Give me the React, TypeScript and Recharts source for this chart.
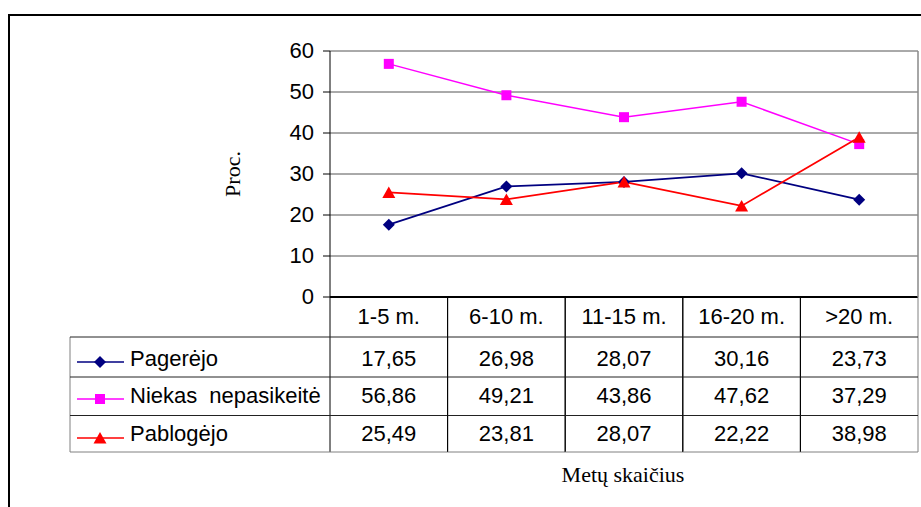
import React from 'react';
import { LineChart, Line, XAxis, YAxis, CartesianGrid, Label } from 'recharts';

const categories = ['1-5 m.', '6-10 m.', '11-15 m.', '16-20 m.', '>20 m.'];
const pagerejo = [17.65, 26.98, 28.07, 30.16, 23.73];
const niekas = [56.86, 49.21, 43.86, 47.62, 37.29];
const pablogejo = [25.49, 23.81, 28.07, 22.22, 38.98];
const seriesNames = ['Pagerėjo', 'Niekas nepasikeitė', 'Pablogėjo'];
const yTicks = [0, 10, 20, 30, 40, 50, 60];
const yTitle = 'Proc.';
const xTitle = 'Metų skaičius';

const data = categories.map((c, i) => ({ cat: c, p: pagerejo[i], n: niekas[i], b: pablogejo[i] }));

const SANS = '"Liberation Sans", Arial, sans-serif';
const SERIF = '"Liberation Serif", "Times New Roman", serif';

const PLOT_W = 588;
const HALF_BAND = PLOT_W / categories.length / 2;

const Diamond = ({ cx, cy, fill }: any) => (
  <polygon points={`${cx},${cy - 6} ${cx + 6},${cy} ${cx},${cy + 6} ${cx - 6},${cy}`} fill={fill} />
);
const Square = ({ cx, cy, fill }: any) => (
  <rect x={cx - 5} y={cy - 5} width={10} height={10} fill={fill} />
);
const Triangle = ({ cx, cy, fill }: any) => (
  <polygon points={`${cx},${cy - 6} ${cx + 6.5},${cy + 5.5} ${cx - 6.5},${cy + 5.5}`} fill={fill} />
);

const series = [
  { key: 'p', name: seriesNames[0], color: '#000080', Shape: Diamond, values: pagerejo, width: 1.75 },
  { key: 'n', name: seriesNames[1], color: '#FF00FF', Shape: Square, values: niekas, width: 1.5 },
  { key: 'b', name: seriesNames[2], color: '#FF0000', Shape: Triangle, values: pablogejo, width: 1.75 },
];

const fmt = (v: number) => v.toFixed(2).replace('.', ',');

const rowBaselines = [68.5, 106, 144];
const keyCenters = [65, 102, 141];
const rowLines = [40, 80, 118.5, 155];

const TableTick = (props: any) => {
  const { x, y, payload } = props;
  const i = props.index ?? payload?.index ?? 0;
  const half = HALF_BAND;
  const left = x - half;
  const right = x + half;
  const tableLeft = left - 260;
  return (
    <g>
      <text x={x} y={y + 27} textAnchor="middle" fontFamily={SANS} fontSize={22} fill="#000">
        {payload.value}
      </text>
      {series.map((s, k) => (
        <text key={s.key} x={x} y={y + rowBaselines[k]} textAnchor="middle" fontFamily={SANS} fontSize={22} fill="#000">
          {fmt(s.values[i])}
        </text>
      ))}
      <line x1={left} x2={left} y1={y} y2={y + 155} stroke="#000" strokeWidth={1} />
      <line x1={right} x2={right} y1={y} y2={y + 155} stroke={i === categories.length - 1 ? '#808080' : '#000'} strokeWidth={1} />
      {rowLines.map((d, k) => (
        <line key={k} x1={left} x2={right} y1={y + d} y2={y + d} stroke={k === 3 ? '#808080' : '#222'} strokeWidth={1} />
      ))}
      {i === 0 && (
        <g>
          <line x1={tableLeft} x2={tableLeft} y1={y + 40} y2={y + 155} stroke="#808080" strokeWidth={1} />
          {rowLines.map((d, k) => (
            <line key={'l' + k} x1={tableLeft} x2={left} y1={y + d} y2={y + d} stroke={k === 3 ? '#808080' : '#222'} strokeWidth={1} />
          ))}
          {series.map((s, k) => {
            const cy = y + keyCenters[k];
            const S = s.Shape;
            return (
              <g key={'k' + s.key}>
                <line x1={tableLeft + 7} x2={tableLeft + 54} y1={cy} y2={cy} stroke={s.color} strokeWidth={1.5} />
                <S cx={tableLeft + 30} cy={cy} fill={s.color} />
                <text x={tableLeft + 60} y={y + rowBaselines[k]} fontFamily={SANS} fontSize={22} fill="#000" wordSpacing={6}>
                  {s.name}
                </text>
              </g>
            );
          })}
        </g>
      )}
    </g>
  );
};

const YTick = (props: any) => {
  const { x, y, payload } = props;
  return (
    <text x={x} y={y + 6.5} textAnchor="end" fontFamily={SANS} fontSize={22} fill="#000">
      {payload.value}
    </text>
  );
};

const YTitle = (props: any) => {
  const vb = props.viewBox || { x: 0, y: 51, width: 330, height: 246 };
  const tx = vb.x + vb.width - 90;
  const ty = vb.y + vb.height / 2;
  return (
    <text transform={`translate(${tx},${ty}) rotate(-90)`} textAnchor="middle" fontFamily={SERIF} fontSize={22} fill="#000">
      {yTitle}
    </text>
  );
};

const XTitle = (props: any) => {
  const vb = props.viewBox || { x: 330, y: 297, width: 588, height: 210 };
  return (
    <text x={vb.x + vb.width / 2 - 1} y={vb.y + 185} textAnchor="middle" fontFamily={SERIF} fontSize={22} fill="#000">
      {xTitle}
    </text>
  );
};

const makeDot = (s: any) => (p: any) => {
  const S = s.Shape;
  if (p.cx == null || p.cy == null) return <g key={`${s.key}-${p.index}`} />;
  return (
    <g key={`${s.key}-${p.index}`}>
      <S cx={p.cx} cy={p.cy} fill={s.color} />
    </g>
  );
};

export default function App() {
  return (
    <div style={{ position: 'absolute', left: 0, top: 0, width: 921, height: 507, overflow: 'hidden', background: '#fff' }}>
      <LineChart width={921} height={507} data={data} margin={{ top: 51, right: 0, left: 0, bottom: 0 }}>
        <CartesianGrid horizontal vertical={false} stroke="#555" strokeWidth={1} />
        <XAxis
          dataKey="cat"
          height={210}
          interval={0}
          padding={{ left: HALF_BAND, right: HALF_BAND }}
          tickSize={0}
          tickMargin={0}
          tickLine={false}
          axisLine={{ stroke: '#000', strokeWidth: 2 }}
          tick={<TableTick />}
        >
          <Label content={<XTitle />} />
        </XAxis>
        <YAxis
          width={330}
          domain={[0, 60]}
          ticks={yTicks}
          interval={0}
          tickSize={7}
          tickMargin={9}
          axisLine={{ stroke: '#000', strokeWidth: 1 }}
          tickLine={{ stroke: '#000', strokeWidth: 1 }}
          tick={<YTick />}
        >
          <Label content={<YTitle />} />
        </YAxis>
        <YAxis
          yAxisId="r"
          orientation="right"
          width={3}
          domain={[0, 60]}
          tick={false}
          tickLine={false}
          axisLine={{ stroke: '#888', strokeWidth: 1.5 }}
        />
        {series.map((s) => (
          <Line
            key={s.key}
            dataKey={s.key}
            name={s.name}
            type="linear"
            stroke={s.color}
            strokeWidth={s.width}
            dot={makeDot(s)}
            activeDot={false}
            isAnimationActive={false}
          />
        ))}
      </LineChart>
      <div
        style={{
          position: 'absolute',
          left: 8,
          top: 14,
          width: 1000,
          height: 600,
          borderTop: '2px solid #000',
          borderLeft: '2px solid #000',
          pointerEvents: 'none',
        }}
      />
    </div>
  );
}
